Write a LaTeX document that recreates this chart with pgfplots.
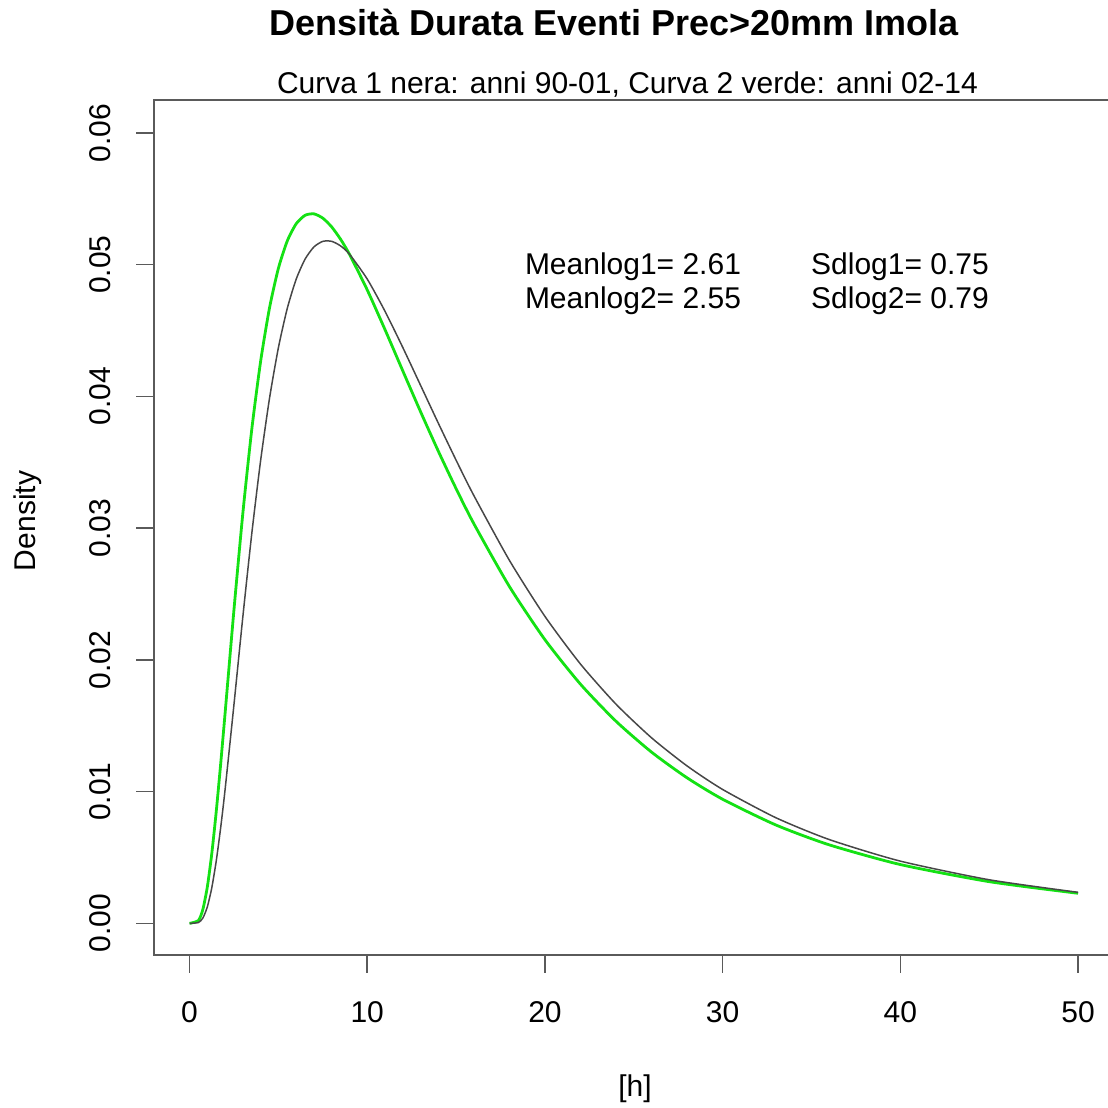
\documentclass[border=0pt]{standalone}
\usepackage{pgfplots}
\pgfplotsset{compat=1.18}
\usepackage{fontspec}
\setmainfont{Liberation Sans}
\definecolor{rgreen}{RGB}{20,225,20}
\definecolor{rframe}{RGB}{90,90,90}
\begin{document}
\begin{tikzpicture}
\begin{axis}[
  at={(77pt,76.5pt)}, anchor=south west,
  scale only axis, width=479.8pt, height=427.5pt,
  xmin=-2, xmax=52, ymin=-0.0024, ymax=0.0625,
  axis line style={rframe, line width=0.8pt},
  xtick={0,10,20,30,40,50}, ytick={0,0.01,0.02,0.03,0.04,0.05,0.06},
  xtick pos=left, ytick pos=left,
  tick align=outside, major tick length=9pt,
  tick style={rframe, line width=0.8pt},
  scaled y ticks=false,
  /pgf/number format/assume math mode=true,
  yticklabel style={/pgf/number format/fixed, /pgf/number format/fixed zerofill, /pgf/number format/precision=2},
  yticklabel style={rotate=90, anchor=base, font=\fontsize{15}{18}\selectfont},
  xticklabel style={anchor=base, font=\fontsize{15}{18}\selectfont},
  xticklabel shift=24.5pt, yticklabel shift=13pt,
  clip=false,
]
\addplot[rgreen, line width=1.4pt, smooth, tension=0.4] coordinates {
(0,0) (0.5,0.000221) (0.75,0.001063) (1,0.002758) (1.25,0.005278) (1.5,0.008455) (1.75,0.012076)
(2,0.015939) (2.5,0.023808) (3,0.031135) (3.5,0.037472) (4,0.042662) (4.5,0.046714)
(5,0.049719) (5.5,0.051802) (6,0.053101) (6.5,0.053746) (7,0.053856) (7.5,0.053531)
(8,0.052863) (8.5,0.051928) (9,0.050786) (10,0.048083) (11,0.045067) (12,0.041941)
(13,0.038840) (14,0.035843) (15,0.033000) (16,0.030334) (18,0.025569) (20,0.021534)
(22,0.018156) (24,0.015341) (26,0.012998) (28,0.011047) (30,0.009421) (33,0.007466)
(36,0.005961) (40,0.004466) (45,0.003167) (50,0.002285)
};
\addplot[black!72, line width=0.75pt, smooth, tension=0.4] coordinates {
(0,0) (0.5,0.000065) (0.75,0.000407) (1,0.001247) (1.25,0.002689) (1.5,0.004715) (1.75,0.007244)
(2,0.010150) (2.5,0.016614) (3,0.023278) (3.5,0.029558) (4,0.035132) (4.5,0.039854)
(5,0.043693) (5.5,0.046682) (6,0.048893) (6.5,0.050417) (7,0.051346) (7.5,0.051770)
(8,0.051771) (8.5,0.051425) (9,0.050796) (10,0.048907) (11,0.046461) (12,0.043715)
(13,0.040843) (14,0.037966) (15,0.035160) (16,0.032473) (18,0.027557) (20,0.023301)
(22,0.019683) (24,0.016637) (26,0.014084) (28,0.011949) (30,0.010164) (33,0.008016)
(36,0.006363) (40,0.004725) (45,0.003310) (50,0.002357)
};
\end{axis}
\node[anchor=base, font=\fontsize{18}{21}\selectfont\bfseries] at (307pt,536pt) {Densità Durata Eventi Prec>20mm Imola};
\node[anchor=base, font=\fontsize{15}{18}\selectfont] at (313.75pt,507pt) {Curva 1 nera: anni 90-01, Curva 2 verde: anni 02-14};
\node[anchor=base, font=\fontsize{15}{18}\selectfont] at (316.5pt,416.5pt) {Meanlog1= 2.61};
\node[anchor=base, font=\fontsize{15}{18}\selectfont] at (316.5pt,399.5pt) {Meanlog2= 2.55};
\node[anchor=base, font=\fontsize{15}{18}\selectfont] at (450pt,416.5pt) {Sdlog1= 0.75};
\node[anchor=base, font=\fontsize{15}{18}\selectfont] at (450pt,399.5pt) {Sdlog2= 0.79};
\node[anchor=base, rotate=90, font=\fontsize{15}{18}\selectfont] at (17.5pt,293.5pt) {Density};
\node[anchor=base, font=\fontsize{15}{18}\selectfont] at (317.5pt,5.5pt) {[h]};
\pgfresetboundingbox
\useasboundingbox (0pt,0pt) rectangle (554pt,554pt);
\end{tikzpicture}
\end{document}
